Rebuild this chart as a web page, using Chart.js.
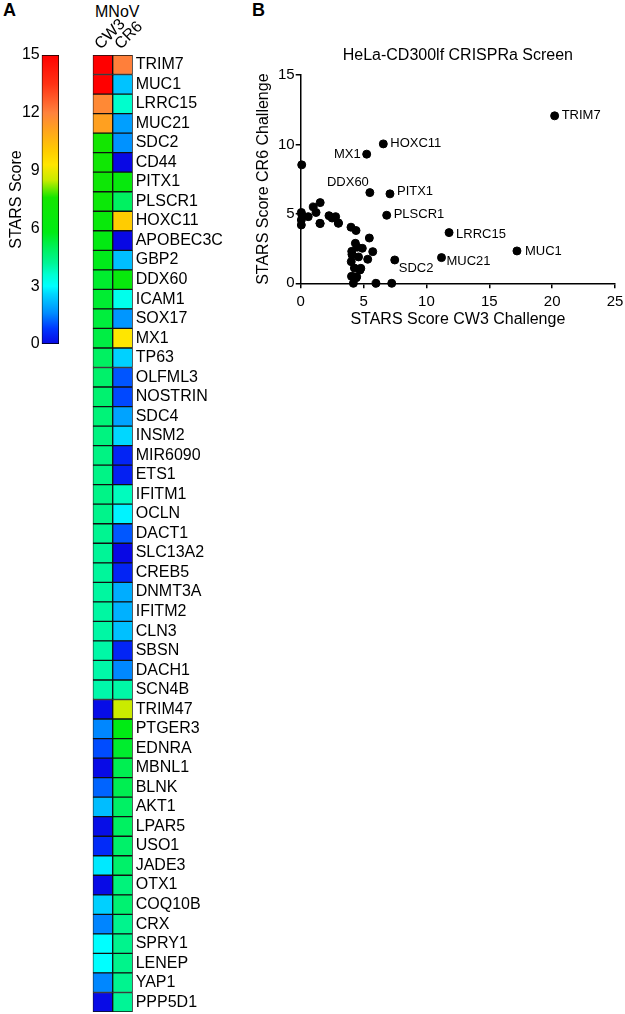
<!DOCTYPE html>
<html>
<head>
<meta charset="utf-8">
<script src="https://cdn.jsdelivr.net/npm/chart.js@4.4.0/dist/chart.umd.min.js"></script>
<style>
  body { margin: 0; background: #fff; width: 625px; height: 1014px; position: relative; overflow: hidden;
         font-family: "Liberation Sans", Arial, sans-serif; }
  .box { position: absolute; }
  .tag { position: absolute; font-weight: bold; font-size: 18px; }
</style>
</head>
<body>
<div class="tag" style="left:3px;top:0px">A</div>
<div class="tag" style="left:252px;top:0px">B</div>
<div style="position:absolute;left:95px;top:3px;font-size:16px">MNoV</div>
<div class="box" style="left:0;top:0;width:70px;height:360px"><canvas id="colorbar"></canvas></div>
<div class="box" style="left:80px;top:0;width:170px;height:1014px"><canvas id="heatmap"></canvas></div>
<div class="box" style="left:250px;top:0;width:375px;height:340px"><canvas id="scatter"></canvas></div>
<script>
// ---- data ----
const genes = ['TRIM7', 'MUC1', 'LRRC15', 'MUC21', 'SDC2', 'CD44', 'PITX1', 'PLSCR1', 'HOXC11', 'APOBEC3C',
  'GBP2', 'DDX60', 'ICAM1', 'SOX17', 'MX1', 'TP63', 'OLFML3', 'NOSTRIN', 'SDC4', 'INSM2',
  'MIR6090', 'ETS1', 'IFITM1', 'OCLN', 'DACT1', 'SLC13A2', 'CREB5', 'DNMT3A', 'IFITM2', 'CLN3',
  'SBSN', 'DACH1', 'SCN4B', 'TRIM47', 'PTGER3', 'EDNRA', 'MBNL1', 'BLNK', 'AKT1', 'LPAR5',
  'USO1', 'JADE3', 'OTX1', 'COQ10B', 'CRX', 'SPRY1', 'LENEP', 'YAP1', 'PPP5D1'];
const cw3 = [20.2, 17.2, 11.8, 11.2, 7.48, 7.24, 7.1, 6.84, 6.57, 5.99,
  5.73, 5.5, 5.46, 5.33, 5.25, 4.9, 4.78, 4.72, 4.6, 4.5,
  4.45, 4.42, 4.4, 4.35, 4.27, 4.19, 4.15, 4.1, 4.08, 4.06,
  4.04, 4.02, 4.0, 0.08, 1.55, 1.0, 0.05, 1.22, 2.25, 0.1,
  0.6, 2.78, 0.05, 2.5, 1.53, 3.0, 3.0, 1.55, 0.05];
const cr6 = [12.06, 2.33, 3.65, 1.85, 1.68, 0, 6.44, 4.9, 10.04, 0,
  2.28, 6.53, 3.26, 1.73, 9.3, 2.52, 1.08, 0.96, 1.9, 2.6,
  0.48, 0.4, 3.8, 2.88, 1.1, 0, 0.48, 2.04, 2.09, 2.3,
  0.5, 1.56, 4.04, 8.53, 5.81, 5.5, 5.1, 5.1, 4.87, 4.9,
  4.8, 4.8, 4.56, 4.7, 4.32, 4.32, 4.35, 4.3, 4.2];
const conditions = ['CW3', 'CR6'];
const barTicks = [0, 3, 6, 9, 12, 15];
const scatterTitle = 'HeLa-CD300lf CRISPRa Screen';
const labelled = ['TRIM7', 'HOXC11', 'MX1', 'DDX60', 'PITX1', 'PLSCR1', 'SDC2', 'LRRC15', 'MUC1', 'MUC21'];

// ---- style ----
const FONT = '"Liberation Sans", Arial, sans-serif';
Chart.defaults.font.family = FONT;
Chart.defaults.color = '#000';

// jet-like colour ramp of the STARS score (0..15)
const cmapStops = [
  [0, [8, 8, 228]], [0.8, [0, 55, 255]], [1.6, [0, 140, 255]], [2.6, [0, 215, 255]],
  [3.0, [0, 255, 255]], [3.6, [0, 255, 210]], [4.2, [0, 245, 150]], [5.0, [0, 240, 90]],
  [5.8, [0, 235, 20]], [7.6, [20, 230, 0]], [8.5, [200, 235, 0]], [9.3, [255, 230, 0]],
  [10.0, [255, 205, 0]], [11.2, [255, 160, 32]], [12, [255, 130, 60]], [13.5, [255, 50, 20]],
  [15, [255, 0, 0]]
];
function scoreColor(v) {
  v = Math.max(0, Math.min(15, v));
  for (let i = 1; i < cmapStops.length; i++) {
    const [v1, c1] = cmapStops[i];
    if (v <= v1) {
      const [v0, c0] = cmapStops[i - 1];
      const t = (v - v0) / (v1 - v0);
      const c = c0.map((a, k) => Math.round(a + (c1[k] - a) * t));
      return `rgb(${c.join(',')})`;
    }
  }
  return 'rgb(255,0,0)';
}

// label offsets next to scatter points: [dx, dy]; negative dx = text to the left
const labelPlace = {
  TRIM7: [7, 0], HOXC11: [7, 0], MX1: [-6, 0], DDX60: [-1, -10], PITX1: [7, -2],
  PLSCR1: [7, -1], SDC2: [4, 8], LRRC15: [7, 2], MUC1: [8, 0], MUC21: [5, 4]
};

// ===================== Colour bar =====================
function gradientFill(ctx) {
  const chart = ctx.chart;
  if (!chart.chartArea) return '#fff';
  const y = chart.scales.y;
  const g = chart.ctx.createLinearGradient(0, y.getPixelForValue(0), 0, y.getPixelForValue(15));
  cmapStops.forEach(([v, c]) => g.addColorStop(v / 15, `rgb(${c.join(',')})`));
  return g;
}

new Chart(document.getElementById('colorbar'), {
  type: 'bar',
  data: {
    labels: [''],
    datasets: [{
      data: [[barTicks[0], barTicks[barTicks.length - 1]]],
      backgroundColor: gradientFill,
      borderColor: '#000', borderWidth: 1, borderSkipped: false,
      barPercentage: 1, categoryPercentage: 1
    }]
  },
  options: {
    responsive: true, maintainAspectRatio: false, animation: false,
    layout: { padding: { top: 55, bottom: 16, left: 0, right: 11 } },
    plugins: { legend: { display: false }, tooltip: { enabled: false } },
    scales: {
      x: { display: false },
      y: {
        min: 0, max: 15, position: 'left',
        afterBuildTicks: s => { s.ticks = barTicks.map(v => ({ value: v })); },
        ticks: { font: { size: 16 }, padding: 2 },
        grid: { display: false, drawTicks: false }, border: { display: false },
        title: { display: true, text: 'STARS Score', font: { size: 16 }, padding: { top: 6.5, bottom: 0 } },
        afterFit: s => { s.width = 41.7; }
      }
    }
  }
});

// ===================== Heatmap =====================
const values = [cw3, cr6];
const columnLabels = {
  id: 'columnLabels',
  afterDraw(chart) {
    const { ctx, chartArea, scales: { x } } = chart;
    ctx.save();
    ctx.fillStyle = '#000';
    ctx.font = `16px ${FONT}`;
    ctx.textAlign = 'left';
    ctx.textBaseline = 'alphabetic';
    conditions.forEach((name, c) => {
      ctx.save();
      ctx.translate(x.getPixelForValue(c + 0.5) - 2, chartArea.top - 5);
      ctx.rotate(-Math.PI / 4);
      ctx.fillText(name, 0, 0);
      ctx.restore();
    });
    ctx.restore();
  }
};

new Chart(document.getElementById('heatmap'), {
  type: 'bar',
  data: {
    labels: genes,
    datasets: conditions.map((name, c) => ({
      label: name,
      data: genes.map(() => [c, c + 1]),
      backgroundColor: values[c].map(scoreColor),
      borderColor: '#111', borderWidth: 1, borderSkipped: false,
      grouped: false, barPercentage: 1, categoryPercentage: 1
    }))
  },
  options: {
    indexAxis: 'y', responsive: true, maintainAspectRatio: false, animation: false,
    layout: { padding: { left: 12.7, top: 0, bottom: 2, right: 0 } },
    plugins: { legend: { display: false }, tooltip: { enabled: false } },
    scales: {
      y: {
        position: 'right', grid: { display: false, drawTicks: false }, border: { display: false },
        ticks: { font: { size: 16 }, padding: 3, autoSkip: false },
        afterFit: s => { s.width = 117.3; s.paddingTop = 0; s.paddingBottom = 0; }
      },
      x: {
        position: 'top', min: 0, max: 2, grid: { display: false, drawTicks: false }, border: { display: false },
        ticks: { display: false },
        afterFit: s => { s.height = 55; s.paddingLeft = 0; s.paddingRight = 0; }
      }
    }
  },
  plugins: [columnLabels]
});

// ===================== Scatter =====================
const pointLabels = {
  id: 'pointLabels',
  afterDatasetsDraw(chart) {
    const { ctx, chartArea, scales: { x, y } } = chart;
    ctx.save();
    ctx.fillStyle = '#000';
    ctx.textBaseline = 'middle';
    ctx.font = `13px ${FONT}`;
    genes.forEach((g, i) => {
      if (!labelled.includes(g)) return;
      const p = labelPlace[g];
      ctx.textAlign = p[0] < 0 ? 'right' : 'left';
      ctx.fillText(g, x.getPixelForValue(cw3[i]) + p[0], y.getPixelForValue(cr6[i]) + p[1]);
    });
    ctx.font = `16px ${FONT}`;
    ctx.textAlign = 'center';
    ctx.fillText(scatterTitle, (chartArea.left + chartArea.right) / 2, 56);
    ctx.restore();
  }
};

const axisStyle = {
  grid: { drawOnChartArea: false, color: '#000', tickLength: 5, lineWidth: 1.5 },
  border: { color: '#000', width: 1.5 }
};

new Chart(document.getElementById('scatter'), {
  type: 'scatter',
  data: {
    datasets: [{
      data: genes.map((g, i) => ({ x: cw3[i], y: cr6[i] })),
      backgroundColor: '#000', borderColor: '#000', pointRadius: 4, clip: false
    }]
  },
  options: {
    responsive: true, maintainAspectRatio: false, animation: false,
    layout: { padding: { top: 75, right: 10, left: 0, bottom: 10.7 } },
    plugins: { legend: { display: false }, tooltip: { enabled: false } },
    scales: {
      x: {
        min: 0, max: 25, ...axisStyle,
        ticks: { stepSize: 5, font: { size: 15 }, padding: 5 },
        title: { display: true, text: 'STARS Score CW3 Challenge', font: { size: 16 }, padding: 0 },
        afterFit: s => { s.height = 46; s.paddingLeft = 0; s.paddingRight = 0; }
      },
      y: {
        min: 0, max: 15, ...axisStyle,
        ticks: { stepSize: 5, font: { size: 15 }, padding: 1 },
        title: { display: true, text: 'STARS Score CR6 Challenge', font: { size: 16 }, padding: { top: 3.5 } },
        afterFit: s => { s.width = 50.7; s.paddingTop = 0; s.paddingBottom = 0; }
      }
    }
  },
  plugins: [pointLabels]
});
</script>
</body>
</html>
